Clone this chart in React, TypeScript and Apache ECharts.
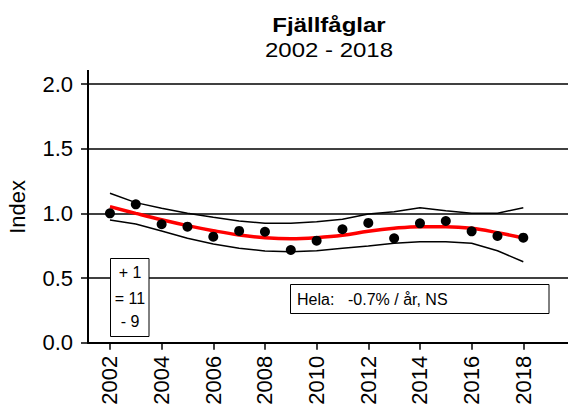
import React, { useEffect, useRef } from "react";
import * as echarts from "echarts";

const years = [2002, 2003, 2004, 2005, 2006, 2007, 2008, 2009, 2010, 2011, 2012, 2013, 2014, 2015, 2016, 2017, 2018];
const indexValues = [1.0, 1.07, 0.916, 0.897, 0.82, 0.864, 0.858, 0.717, 0.789, 0.877, 0.926, 0.807, 0.923, 0.941, 0.861, 0.825, 0.812];
const trendValues = [1.052, 1.0, 0.95, 0.905, 0.866, 0.833, 0.812, 0.804, 0.812, 0.83, 0.862, 0.885, 0.897, 0.897, 0.885, 0.851, 0.81];
const upperValues = [1.155, 1.083, 1.039, 1.0, 0.969, 0.941, 0.923, 0.923, 0.936, 0.954, 0.995, 1.013, 1.044, 1.021, 1.0, 1.0, 1.044];
const lowerValues = [0.949, 0.918, 0.864, 0.807, 0.763, 0.73, 0.709, 0.704, 0.711, 0.73, 0.748, 0.769, 0.781, 0.781, 0.769, 0.711, 0.626];
const tickYears = [2002, 2004, 2006, 2008, 2010, 2012, 2014, 2016, 2018];
const countLines = ["+ 1", "= 11", "- 9"];
const titleText = "Fjällfåglar";
const subtitleText = "2002 - 2018";
const trendLabel = "Hela:";
const trendText = "-0.7% / år, NS";

const FONT = "'Liberation Sans', Arial, sans-serif";

export default function App() {
  const ref = useRef<HTMLDivElement>(null);
  useEffect(() => {
    if (!ref.current) return;
    const chart = echarts.init(ref.current, null, { renderer: "svg" });
    const pair = (vals: number[]) => years.map((y, i) => [y, vals[i]]);
    chart.setOption({
      animation: false,
      backgroundColor: "#ffffff",
      textStyle: { fontFamily: FONT, color: "#000" },
      grid: { left: 88, right: 0, top: 84, bottom: 67.3, containLabel: false, outerBoundsMode: "none" },
      xAxis: {
        type: "value",
        min: 2001.15,
        max: 2019.73,
        axisLine: { show: true, lineStyle: { color: "#000", width: 2 } },
        axisTick: { show: true, length: 7, lineStyle: { color: "#000", width: 1.5 }, customValues: tickYears },
        axisLabel: {
          show: true,
          customValues: tickYears,
          rotate: 90,
          margin: 13,
          fontSize: 22,
          color: "#000",
          fontFamily: FONT,
          formatter: (v: number) => String(v),
        },
        splitLine: { show: false },
      },
      yAxis: {
        type: "value",
        min: 0,
        max: 2,
        interval: 0.5,
        name: "Index",
        nameLocation: "middle",
        nameGap: 59.5,
        nameTextStyle: { fontSize: 22, color: "#000", fontFamily: FONT, padding: [0, 0, 0, 13] },
        axisLine: { show: true, lineStyle: { color: "#000", width: 2 } },
        axisTick: { show: true, length: 7, lineStyle: { color: "#000", width: 1.5 } },
        axisLabel: {
          margin: 15,
          fontSize: 22,
          color: "#000",
          fontFamily: FONT,
          formatter: (v: number) => v.toFixed(1),
        },
        splitLine: { show: true, lineStyle: { color: "#000", width: 1.5 } },
      },
      series: [
        {
          type: "line",
          data: pair(upperValues),
          symbol: "none",
          lineStyle: { color: "#000", width: 1.5 },
          z: 3,
        },
        {
          type: "line",
          data: pair(lowerValues),
          symbol: "none",
          lineStyle: { color: "#000", width: 1.5 },
          z: 3,
        },
        {
          type: "line",
          data: pair(trendValues),
          symbol: "none",
          smooth: 0.4,
          lineStyle: { color: "#ff0000", width: 3.5 },
          z: 4,
        },
        {
          type: "scatter",
          data: pair(indexValues),
          symbol: "circle",
          symbolSize: 10,
          itemStyle: { color: "#000", opacity: 1 },
          z: 5,
        },
      ],
      graphic: [
        {
          type: "line",
          z: 100,
          shape: { x1: 88, y1: 70, x2: 88, y2: 85 },
          style: { stroke: "#000", lineWidth: 2 },
        },
        {
          type: "text",
          z: 100,
          x: 329,
          y: 25,
          scaleX: 1.2,
          style: {
            text: titleText,
            fontSize: 20,
            fontWeight: "bold",
            fontFamily: FONT,
            fill: "#000",
            textAlign: "center",
            textVerticalAlign: "middle",
          },
        },
        {
          type: "text",
          z: 100,
          x: 329,
          y: 50,
          scaleX: 1.2,
          style: {
            text: subtitleText,
            fontSize: 20,
            fontFamily: FONT,
            fill: "#000",
            textAlign: "center",
            textVerticalAlign: "middle",
          },
        },
        {
          type: "rect",
          z: 100,
          shape: { x: 110.5, y: 258.5, width: 38.5, height: 78 },
          style: { fill: "#fff", stroke: "#000", lineWidth: 1 },
        },
        ...countLines.map((t, i) => ({
          type: "text",
          z: 101,
          x: 130,
          y: [272, 298, 321][i],
          style: {
            text: t,
            fontSize: 16,
            fontFamily: FONT,
            fill: "#000",
            textAlign: "center",
            textVerticalAlign: "middle",
          },
        })),
        {
          type: "rect",
          z: 100,
          shape: { x: 290.5, y: 284.5, width: 258.5, height: 29 },
          style: { fill: "#fff", stroke: "#000", lineWidth: 1 },
        },
        {
          type: "text",
          z: 101,
          x: 297,
          y: 299,
          style: {
            text: trendLabel,
            fontSize: 16,
            fontFamily: FONT,
            fill: "#000",
            textAlign: "left",
            textVerticalAlign: "middle",
          },
        },
        {
          type: "text",
          z: 101,
          x: 348,
          y: 299,
          style: {
            text: trendText,
            fontSize: 16,
            fontFamily: FONT,
            fill: "#000",
            textAlign: "left",
            textVerticalAlign: "middle",
          },
        },
      ],
    });
    return () => chart.dispose();
  }, []);
  return (
    <div
      ref={ref}
      style={{ position: "fixed", left: 0, top: 0, width: 568, height: 410, background: "#fff" }}
    />
  );
}
